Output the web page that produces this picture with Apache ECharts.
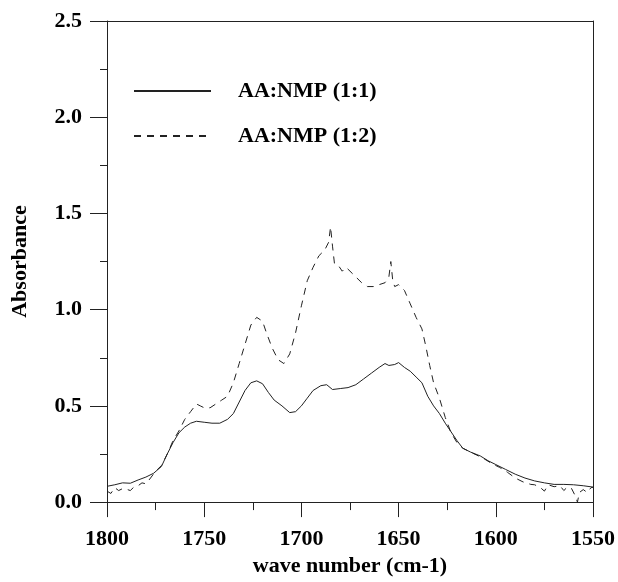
<!DOCTYPE html>
<html>
<head>
<meta charset="utf-8">
<script src="https://cdn.jsdelivr.net/npm/echarts@6/dist/echarts.min.js"></script>
<style>
html,body{margin:0;padding:0;background:#fff;}
#chart{width:618px;height:582px;}
</style>
</head>
<body>
<div id="chart"></div>
<script>
var seriesNames = ['AA:NMP (1:1)', 'AA:NMP (1:2)'];
var xTicks = [1800, 1750, 1700, 1650, 1600, 1550];
var yTicks = ['0.0', '0.5', '1.0', '1.5', '2.0', '2.5'];

var wn11 = [1800,1796,1792,1788,1784,1780,1776,1772,1769,1766,1763,1760,1757,1754,1750,1746,1742,1738,1735,1732,1729,1726,1723,1720,1717,1714,1710,1706,1703,1700,1697,1694,1690,1687,1684,1680,1676,1672,1668,1664,1660,1657,1655,1652,1650,1647,1644,1641,1638,1635,1632,1629,1626,1623,1620,1617,1613,1608,1604,1600,1595,1590,1585,1580,1575,1570,1565,1560,1555,1550];
var abs11 = [0.082,0.090,0.100,0.098,0.115,0.130,0.150,0.185,0.25,0.31,0.36,0.39,0.41,0.42,0.415,0.41,0.41,0.43,0.46,0.52,0.58,0.62,0.63,0.615,0.57,0.53,0.50,0.465,0.47,0.50,0.54,0.58,0.605,0.61,0.585,0.59,0.595,0.61,0.64,0.67,0.70,0.72,0.71,0.715,0.725,0.70,0.68,0.65,0.62,0.55,0.50,0.46,0.41,0.365,0.32,0.28,0.26,0.24,0.215,0.195,0.17,0.145,0.125,0.11,0.10,0.092,0.092,0.09,0.085,0.078];

var wn12 = [1800,1798,1796,1794,1792,1790,1788,1786,1784,1782,1780,1778,1775,1772,1769,1766,1763,1760,1757,1754,1752,1750,1747,1744,1741,1738,1735,1732,1729,1726,1723,1720,1718,1715,1712,1709,1706,1703,1700,1697,1694,1691,1688,1686,1685,1684,1683,1681,1679,1677,1675,1672,1669,1666,1663,1660,1657,1655,1654,1653,1652,1650,1647,1644,1641,1638,1636,1634,1632,1629,1626,1623,1620,1617,1614,1610,1606,1602,1598,1594,1590,1586,1582,1580,1577,1575,1573,1570,1567,1565,1563,1561,1559,1558,1557,1555,1553,1551,1550];
var abs12 = [0.057,0.045,0.075,0.06,0.07,0.067,0.06,0.08,0.085,0.10,0.095,0.12,0.16,0.19,0.25,0.32,0.37,0.43,0.47,0.51,0.50,0.49,0.49,0.51,0.53,0.55,0.62,0.72,0.82,0.92,0.96,0.94,0.88,0.80,0.74,0.72,0.77,0.88,1.02,1.15,1.22,1.28,1.31,1.35,1.43,1.33,1.24,1.23,1.20,1.22,1.20,1.17,1.14,1.12,1.12,1.13,1.14,1.17,1.25,1.15,1.12,1.13,1.10,1.03,0.96,0.90,0.81,0.71,0.62,0.54,0.44,0.36,0.31,0.28,0.265,0.245,0.225,0.20,0.18,0.155,0.125,0.105,0.092,0.09,0.075,0.057,0.09,0.08,0.085,0.06,0.08,0.07,0.03,0.0,0.05,0.065,0.05,0.075,0.077];

function pairs(xs, ys){ return xs.map(function(x,i){ return [x, ys[i]]; }); }

var FONT = 'Liberation Serif';
var lineColor = '#222';
var chart = echarts.init(document.getElementById('chart'), null, {renderer:'canvas'});
chart.setOption({
  animation: false,
  backgroundColor: '#fff',
  grid: {left: 107, right: 24, top: 21, bottom: 74, containLabel: false},
  legend: {
    orient: 'vertical', left: 128, top: 75, itemWidth: 77, itemHeight: 14, itemGap: 23,
    data: seriesNames,
    itemStyle: {color: 'rgba(0,0,0,0)', borderColor: 'rgba(0,0,0,0)', borderWidth: 0},
    textStyle: {fontFamily: FONT, fontWeight: 'bold', fontSize: 22, color: '#000', padding: [0,0,0,22]}
  },
  xAxis: [{
    type: 'value', min: 1550, max: 1800, interval: 50, inverse: true,
    name: 'wave number (cm-1)', nameLocation: 'middle', nameGap: 51,
    nameTextStyle: {fontFamily: FONT, fontWeight: 'bold', fontSize: 22, color: '#000'},
    axisLine: {show: true, onZero: false, lineStyle: {color: lineColor, width: 1}},
    axisTick: {show: true, inside: false, length: 15, lineStyle: {color: lineColor}},
    minorTick: {show: true, splitNumber: 2, length: 8, lineStyle: {color: lineColor}},
    splitLine: {show: false},
    axisLabel: {margin: 26, fontFamily: FONT, fontWeight: 'bold', fontSize: 22, color: '#000',
      formatter: function(v){ return xTicks.indexOf(v) >= 0 ? String(v) : ''; }}
  }, {
    type: 'value', min: 1550, max: 1800, inverse: true, position: 'top',
    axisLine: {show: true, onZero: false, lineStyle: {color: lineColor, width: 1}},
    axisTick: {show: false}, axisLabel: {show: false}, splitLine: {show: false}
  }],
  yAxis: [{
    type: 'value', min: 0, max: 2.5, interval: 0.5,
    name: 'Absorbance', nameLocation: 'middle', nameGap: 76, nameRotate: 90,
    nameTextStyle: {fontFamily: FONT, fontWeight: 'bold', fontSize: 22, color: '#000'},
    axisLine: {show: true, onZero: false, lineStyle: {color: lineColor, width: 1}},
    axisTick: {show: true, inside: false, length: 17, lineStyle: {color: lineColor}},
    minorTick: {show: true, splitNumber: 2, length: 7, lineStyle: {color: lineColor}},
    splitLine: {show: false},
    axisLabel: {margin: 25, fontFamily: FONT, fontWeight: 'bold', fontSize: 22, color: '#000',
      formatter: function(v){ var s = v.toFixed(1); return yTicks.indexOf(s) >= 0 ? s : ''; }}
  }, {
    type: 'value', min: 0, max: 2.5, position: 'right',
    axisLine: {show: true, onZero: false, lineStyle: {color: lineColor, width: 1}},
    axisTick: {show: false}, axisLabel: {show: false}, splitLine: {show: false}
  }],
  series: [{
    name: seriesNames[0], type: 'line', symbol: 'none', showSymbol: false,
    lineStyle: {color: lineColor, width: 1, type: 'solid'}, itemStyle: {color: lineColor},
    data: pairs(wn11, abs11)
  }, {
    name: seriesNames[1], type: 'line', symbol: 'none', showSymbol: false,
    lineStyle: {color: lineColor, width: 1, type: [7, 6]}, itemStyle: {color: lineColor},
    data: pairs(wn12, abs12)
  }]
});
</script>
</body>
</html>
